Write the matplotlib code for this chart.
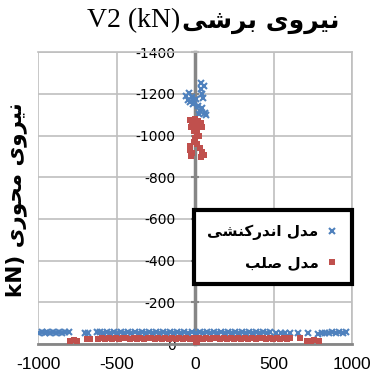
import matplotlib.pyplot as plt

# Persian text written in visual order with Arabic presentation forms
# (matplotlib does no shaping / bidi by itself)
title_fa = "\uFEF0\uFEB7\uFEAE\uFE91 \uFEEF\uFEED\uFEAE\uFEF4\uFEE7"           # نیروی برشی
ylabel_fa = "kN) \uFEEF\uFEAD\uFEEE\uFEA4\uFEE3 \uFEEF\uFEED\uFEAE\uFEF4\uFEE7"  # نیروی محوری (kN
label_inter = "\uFEF0\uFEB8\uFEE8\uFB90\uFEAD\uFEAA\uFEE7\uFE8D \uFEDD\uFEAA\uFEE3"  # مدل اندرکنشی
label_rigid = "\uFE90\uFEE0\uFEBB \uFEDD\uFEAA\uFEE3"                           # مدل صلب

# (V2, axial force) pairs, kN
inter_pts = [
    (-992, -55), (-975, -58), (-958, -54), (-940, -57), (-922, -55), (-905, -59),
    (-885, -54), (-865, -57), (-848, -55), (-830, -58), (-800, -56),
    (-700, -52), (-682, -54),
    (-625, -56), (-605, -58), (-585, -54), (-562, -57), (-540, -55), (-518, -59),
    (-495, -54), (-472, -57), (-450, -55), (-428, -58), (-405, -54), (-382, -57),
    (-360, -55), (-338, -59), (-315, -54), (-292, -57), (-270, -55), (-248, -58),
    (-225, -54), (-202, -57), (-180, -55), (-158, -58), (-135, -54), (-112, -57),
    (-90, -55), (-68, -58), (-45, -54), (-22, -57),
    (8, -55), (30, -58), (52, -54), (75, -57), (98, -55), (120, -58), (142, -54),
    (165, -57), (188, -55), (210, -58), (232, -54), (255, -57), (278, -55),
    (300, -58), (322, -54), (345, -57), (368, -55), (390, -58), (412, -54),
    (435, -57), (458, -55), (478, -58),
    (515, -52), (545, -54), (575, -51), (605, -53), (656, -55),
    (720, -52),
    (785, -50), (805, -52), (828, -55), (850, -53), (872, -56), (895, -54),
    (918, -57), (940, -55), (962, -58),
    # cluster near V2 = 0
    (-55, -1190), (-45, -1170), (-40, -1205), (-30, -1160), (-20, -1185),
    (-15, -1150), (-5, -1165), (5, -1175), (35, -1250), (40, -1225),
    (45, -1200), (50, -1180), (55, -1240), (20, -1140), (30, -1120),
    (45, -1130), (60, -1110), (70, -1100), (25, -1105),
]

rigid_pts = [
    (-795, -15), (-770, -17), (-752, -14), (-688, -26), (-668, -24),
    (-618, -25), (-595, -30), (-572, -22), (-550, -28), (-528, -24), (-505, -31),
    (-482, -23), (-460, -27), (-438, -30), (-415, -22), (-392, -28), (-370, -25),
    (-348, -31), (-325, -23), (-302, -27), (-280, -30), (-258, -24), (-235, -28),
    (-212, -22), (-190, -30), (-168, -25), (-145, -28), (-122, -23), (-100, -31),
    (-78, -26), (-55, -29), (-32, -23), (-10, -27), (12, -6), (5, -2),
    (25, -28), (48, -24), (70, -30), (92, -23), (115, -27), (138, -31),
    (160, -24), (182, -28), (205, -22), (228, -30), (250, -25), (272, -28),
    (295, -23), (318, -31), (340, -26), (362, -29), (385, -23), (408, -27),
    (430, -31), (452, -24), (475, -28), (498, -22), (520, -30), (542, -25),
    (565, -28), (588, -23), (605, -27), (670, -30), (712, -16), (735, -14),
    (760, -17), (790, -15),
    # cluster near V2 = 0
    (-30, -1075), (-20, -1060), (0, -1080), (20, -1070), (40, -1060),
    (45, -1040), (-25, -1040), (-10, -1020), (15, -1040), (10, -1010),
    (25, -1000), (0, -990), (-10, -970), (10, -960), (-35, -950),
    (-30, -930), (-20, -915), (-25, -900), (30, -940), (45, -920),
    (55, -905), (40, -895),
]

x_ticks = [-1000, -500, 0, 500, 1000]
y_ticks = [0, -200, -400, -600, -800, -1000, -1200, -1400]

blue = '#4F81BD'
red = '#C0504D'

fig = plt.figure(figsize=(3.74, 3.80), dpi=100)
ax = fig.add_axes([0.1016, 0.0947, 0.840, 0.768])

ix, iy = zip(*inter_pts)
rx, ry = zip(*rigid_pts)
ax.plot(ix, iy, 'x', color=blue, ms=4.5, mew=1.5, label=label_inter, zorder=3)
ax.plot(rx, ry, 's', color=red, ms=4.6, mew=0, label=label_rigid, zorder=3)

ax.set_xlim(-1000, 1000)
ax.set_ylim(0, -1400)
ax.set_xticks(x_ticks)
ax.set_yticks(y_ticks)
ax.set_yticklabels([str(v) for v in y_ticks], family='Liberation Serif', fontsize=13)
ax.set_xticklabels([str(v) for v in x_ticks], family='Liberation Sans', fontsize=12.5)

ax.grid(True, color='#bfbfbf', lw=1.2, zorder=0)
ax.set_axisbelow(True)
for s in ['top', 'right']:
    ax.spines[s].set_color('#bfbfbf')
    ax.spines[s].set_linewidth(1.2)
ax.spines['left'].set_position(('data', 0))
ax.spines['left'].set_color('#868686')
ax.spines['left'].set_linewidth(2.5)
ax.spines['bottom'].set_color('#868686')
ax.spines['bottom'].set_linewidth(2)
ax.tick_params(axis='y', direction='inout', length=6, width=1.5, color='#868686', pad=11)
ax.tick_params(axis='x', length=0, pad=9)

leg = ax.legend(loc='lower right', bbox_to_anchor=(1.0, 0.205), markerfirst=False,
                fancybox=False, framealpha=1, edgecolor='black',
                prop={'family': 'DejaVu Sans', 'weight': 'bold', 'size': 11},
                handlelength=0.8, handletextpad=0.5, borderpad=0.9, labelspacing=1.0,
                borderaxespad=0)
leg.get_frame().set_linewidth(3)

fig.text(0.483, 0.945, "V2 (kN)", family='Liberation Serif', fontsize=20,
         ha='right', va='center')
fig.text(0.487, 0.942, title_fa, family='DejaVu Sans', weight='bold', fontsize=18,
         ha='left', va='center')
fig.text(0.042, 0.474, ylabel_fa, family='DejaVu Sans', weight='bold', fontsize=15.5,
         rotation=90, ha='center', va='center')

fig.savefig('out.png', dpi=100)
